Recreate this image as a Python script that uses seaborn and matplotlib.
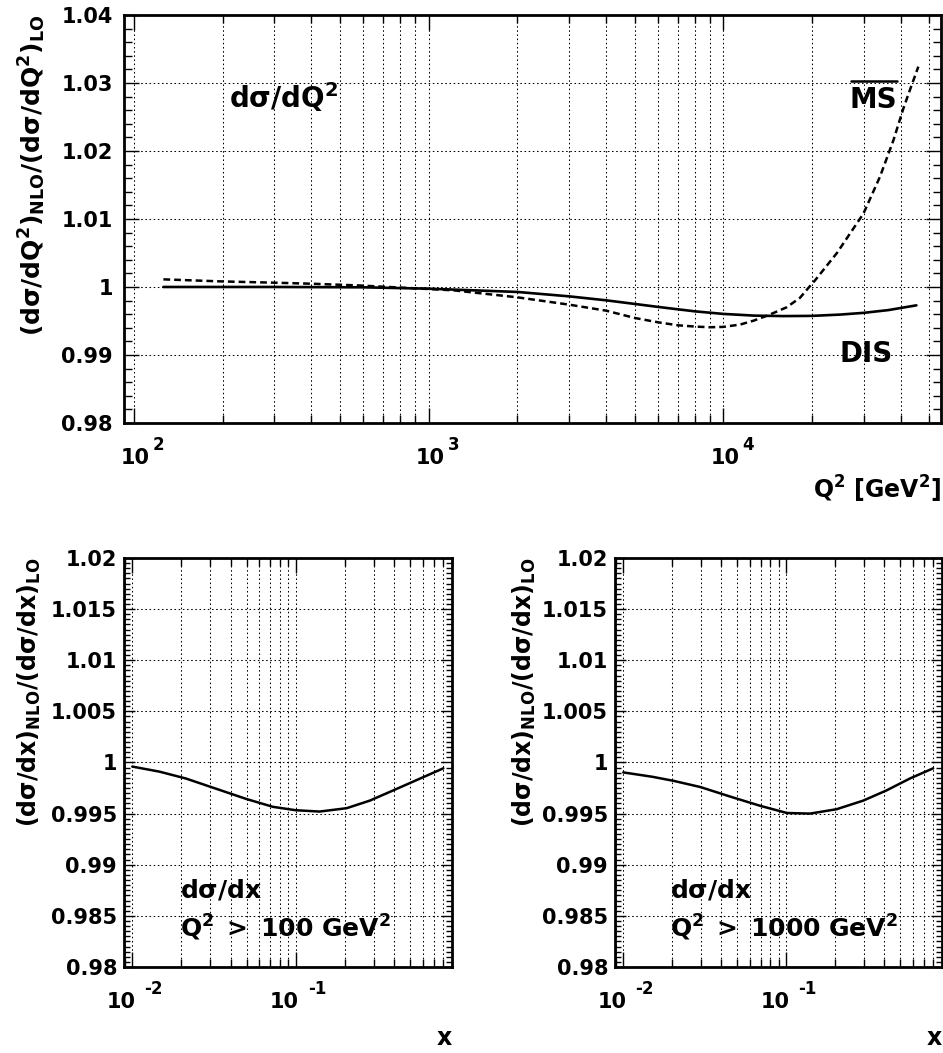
import numpy as np
import matplotlib
matplotlib.use("Agg")
import matplotlib.pyplot as plt
from matplotlib.ticker import FuncFormatter, LogLocator, NullFormatter, MultipleLocator
from matplotlib.lines import Line2D
from matplotlib.transforms import IdentityTransform
import seaborn as sns

# ---------------- data ----------------
q2_dis = [126, 300, 600, 1000, 2000, 3000, 4000, 5000, 6000, 7000, 8000,
          10000, 12700, 16000, 20000, 24900, 30000, 36300, 45200]
ratio_dis = [1.0000, 1.0000, 0.99995, 0.99975, 0.99927, 0.99862, 0.99804,
             0.99751, 0.99707, 0.99672, 0.99642, 0.99604, 0.99579, 0.99572,
             0.99575, 0.99594, 0.9962, 0.9966, 0.9973]

q2_ms = [126, 198, 300, 400, 575, 1000, 1220, 2000, 3000, 4000, 5000, 6000,
         7000, 8000, 9000, 10000, 11400, 12700, 14200, 16400, 18200, 19300,
         20500, 24300, 29900, 34000, 37800, 40800, 43000, 45900]
ratio_ms = [1.00112, 1.00082, 1.00063, 1.00048, 1.00023, 0.9997, 0.9995,
            0.99848, 0.9974, 0.99652, 0.99545, 0.99481, 0.99437, 0.99418,
            0.99408, 0.99413, 0.99447, 0.99506, 0.99584, 0.99701, 0.9984,
            0.9997, 1.0010, 1.0050, 1.0108, 1.0162, 1.0216, 1.0262, 1.0290,
            1.0324]

x_q100 = [0.0100, 0.0147, 0.0213, 0.0326, 0.0499, 0.0726, 0.100, 0.140,
          0.205, 0.284, 0.395, 0.577, 0.80]
ratio_q100 = [0.9996, 0.9991, 0.99843, 0.99743, 0.99643, 0.99566, 0.99533,
              0.9952, 0.99553, 0.99627, 0.99727, 0.99843, 0.99943]

x_q1000 = [0.0100, 0.0151, 0.0204, 0.0297, 0.0454, 0.0693, 0.101, 0.140,
           0.204, 0.297, 0.413, 0.574, 0.798]
ratio_q1000 = [0.99903, 0.9986, 0.9982, 0.9976, 0.99666, 0.99576, 0.99506,
               0.9950, 0.99543, 0.99627, 0.99727, 0.99843, 0.99943]

# ---------------- style ----------------
sns.set_theme(style="ticks")
plt.rcParams["font.family"] = ["DejaVu Sans"]
plt.rcParams["font.weight"] = "bold"
plt.rcParams["axes.labelweight"] = "bold"
plt.rcParams["axes.linewidth"] = 2.0
for k in ["xtick.color", "ytick.color", "axes.edgecolor", "text.color",
          "axes.labelcolor", "xtick.labelcolor", "ytick.labelcolor"]:
    plt.rcParams[k] = "black"

fig = plt.figure(figsize=(9.43, 10.53), dpi=100)
ax_top = fig.add_axes([0.1315, 0.5983, 0.8669, 0.3875])
ax_bl = fig.add_axes([0.1315, 0.0817, 0.3475, 0.3884])
ax_br = fig.add_axes([0.6522, 0.0817, 0.3464, 0.3884])

GRID = dict(color="black", linewidth=0.75, linestyle=(0, (1.5, 2.5)))


def num_fmt(v, pos):
    return "%g" % round(v, 6)


def style_axis(ax, xlim, ylim, ymajor, yminor, ymaj_len, ymin_len, ypad,
               ten_dx, exp_dx):
    ax.set_xscale("log")
    ax.set_xlim(*xlim)
    ax.set_ylim(*ylim)
    ax.xaxis.set_major_locator(LogLocator(base=10, numticks=12))
    ax.xaxis.set_minor_locator(LogLocator(base=10, subs=np.arange(2, 10), numticks=12))
    ax.xaxis.set_major_formatter(NullFormatter())
    ax.xaxis.set_minor_formatter(NullFormatter())
    ax.yaxis.set_major_locator(MultipleLocator(ymajor))
    ax.yaxis.set_minor_locator(MultipleLocator(yminor))
    ax.yaxis.set_major_formatter(FuncFormatter(num_fmt))
    ax.grid(False)
    ax.grid(True, which="both", axis="x", **GRID)
    ax.grid(True, which="major", axis="y", **GRID)
    ax.tick_params(which="both", direction="in", top=True, right=True,
                   width=1.0, color="black")
    ax.tick_params(axis="x", which="major", length=11)
    ax.tick_params(axis="x", which="minor", length=5.5)
    ax.tick_params(axis="y", which="major", length=ymaj_len, pad=ypad, labelsize=15)
    ax.tick_params(axis="y", which="minor", length=ymin_len)
    for s in ax.spines.values():
        s.set_visible(True)
        s.set_linewidth(2.0)
        s.set_color("black")
    for lbl in ax.get_yticklabels():
        lbl.set_fontweight("bold")
    # ROOT-style "10" with raised exponent for each decade tick
    for v in ax.xaxis.get_major_locator().tick_values(*xlim):
        if not (xlim[0] <= v <= xlim[1]):
            continue
        e = int(round(np.log10(v)))
        ax.annotate("10", xy=(v, 0), xycoords=("data", "axes fraction"),
                    xytext=(ten_dx, -25), textcoords="offset pixels",
                    ha="right", va="top", fontsize=15, fontweight="bold")
        ax.annotate("%d" % e, xy=(v, 0), xycoords=("data", "axes fraction"),
                    xytext=(exp_dx, -13), textcoords="offset pixels",
                    ha="left", va="top", fontsize=12, fontweight="bold")


# ---------------- top panel ----------------
sns.lineplot(x=q2_dis, y=ratio_dis, ax=ax_top, color="black", linewidth=1.9,
             sort=False, estimator=None)
sns.lineplot(x=q2_ms, y=ratio_ms, ax=ax_top, color="black", linewidth=1.8,
             linestyle=(0, (2.7, 1.6)), sort=False, estimator=None)
style_axis(ax_top, (92.6, 55000), (0.98, 1.04), 0.01, 0.002, 11, 5.5, 8, 16, 19)
ax_top.set_ylabel(r"$\mathregular{(dσ/dQ^{2})_{NLO}/(dσ/dQ^{2})_{LO}}$",
                  fontsize=18, fontweight="bold", loc="top")
ax_top.yaxis.set_label_coords(-0.093, 1.0)
ax_top.set_xlabel(r"$\mathregular{Q^{2}\ [GeV^{2}]}$", fontsize=17,
                  fontweight="bold", loc="right")
ax_top.xaxis.set_label_coords(1.0, -0.186)
ax_top.xaxis.label.set_va("baseline")
ax_top.text(0.128, 0.771, r"$\mathregular{dσ/dQ^{2}}$", transform=ax_top.transAxes,
            fontsize=20, fontweight="bold", ha="left", va="baseline")
ms_text = ax_top.text(0.888, 0.771, "MS", transform=ax_top.transAxes,
                      fontsize=20, fontweight="bold", ha="left", va="baseline")
ax_top.text(0.875, 0.149, "DIS", transform=ax_top.transAxes,
            fontsize=20, fontweight="bold", ha="left", va="baseline")

# ---------------- bottom panels ----------------
for ax, xs, ys, cut, xtxt in [
    (ax_bl, x_q100, ratio_q100, "100", 0.171),
    (ax_br, x_q1000, ratio_q1000, "1000", 0.168),
]:
    sns.lineplot(x=xs, y=ys, ax=ax, color="black", linewidth=1.8,
                 sort=False, estimator=None)
    style_axis(ax, (0.0089, 0.90), (0.98, 1.02), 0.005, 0.0005, 8, 4, 5, 3, 12)
    ax.set_ylabel(r"$\mathregular{(dσ/dx)_{NLO}/(dσ/dx)_{LO}}$",
                  fontsize=17, fontweight="bold", loc="top")
    ax.set_xlabel("x", fontsize=17, fontweight="bold", loc="right")
    ax.xaxis.set_label_coords(1.0, -0.19)
    ax.xaxis.label.set_va("baseline")
    ax.text(xtxt, 0.169, r"$\mathregular{dσ/dx}$", transform=ax.transAxes,
            fontsize=18, fontweight="bold", ha="left", va="baseline")
    ax.text(xtxt, 0.074, r"$\mathregular{Q^{2}\;>\;%s\ GeV^{2}}$" % cut,
            transform=ax.transAxes, fontsize=18, fontweight="bold",
            ha="left", va="baseline")

ax_bl.yaxis.set_label_coords(-0.247, 1.0)
ax_br.yaxis.set_label_coords(-0.236, 1.0)

# overline of the MS-bar label, placed from the rendered text extent
fig.canvas.draw()
bb = ms_text.get_window_extent(fig.canvas.get_renderer())
fig.add_artist(Line2D([bb.x0 + 1, bb.x1 - 1], [bb.y1 + 5, bb.y1 + 5],
                      transform=IdentityTransform(), color="black", linewidth=1.8))

fig.savefig("out.png", dpi=100)
